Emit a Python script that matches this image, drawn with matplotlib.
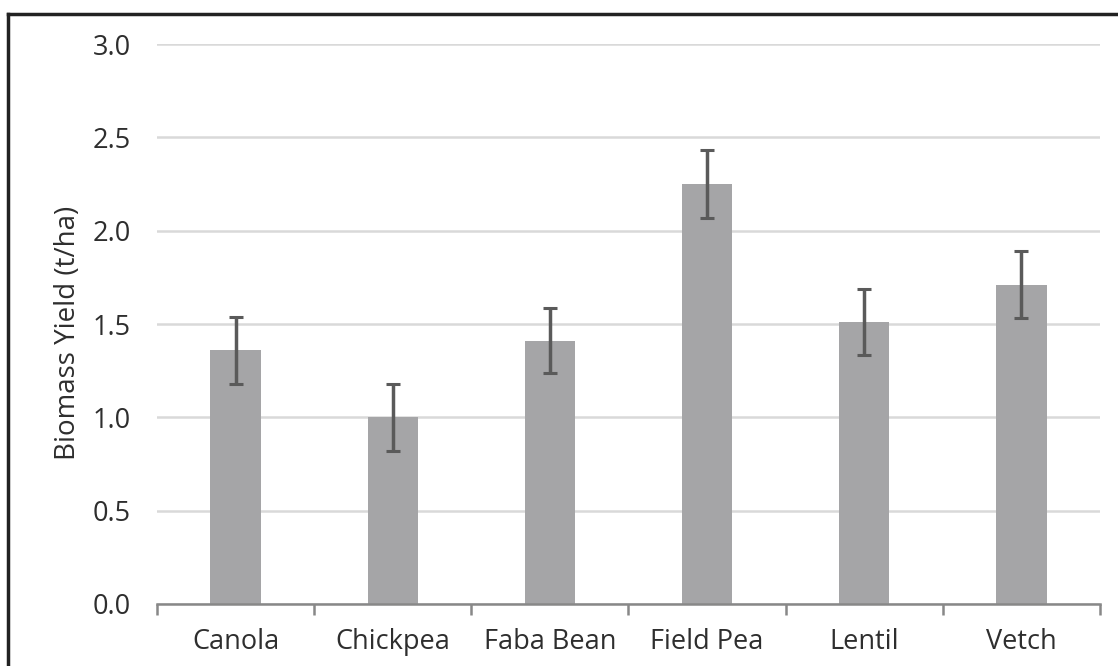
"""Biomass yield bar chart with error bars."""
import matplotlib
matplotlib.use("Agg")
import matplotlib.pyplot as plt
from matplotlib.lines import Line2D
import numpy as np

crops = ["Canola", "Chickpea", "Faba Bean", "Field Pea", "Lentil", "Vetch"]
biomass = [1.36, 1.00, 1.41, 2.25, 1.51, 1.71]
err = [0.18, 0.18, 0.175, 0.18, 0.175, 0.18]
yticks = [0.0, 0.5, 1.0, 1.5, 2.0, 2.5, 3.0]

plt.rcParams["font.family"] = ["Open Sans", "DejaVu Sans"]

fig = plt.figure(figsize=(11.18, 6.66), dpi=100)
ax = fig.add_axes([0.1404, 0.0931, 0.8435, 0.8408])

x = np.arange(len(crops))
ax.bar(x, biomass, width=0.32, color="#a5a5a7", zorder=2)
ax.errorbar(x, biomass, yerr=err, fmt="none", ecolor="#5a5a5a",
            elinewidth=2.5, capsize=5, capthick=2.2, zorder=3)

ax.set_xlim(-0.5, len(crops) - 0.5)
ax.set_ylim(0, 3.0)
ax.set_yticks(yticks)
ax.set_yticklabels([f"{v:.1f}" for v in yticks])
ax.yaxis.grid(True, color="#d9d9d9", linewidth=1.8, zorder=0)
ax.set_axisbelow(True)

ax.set_xticks(x)
ax.set_xticklabels(crops)
ax.set_xticks(np.arange(len(crops) + 1) - 0.5, minor=True)
ax.tick_params(axis="x", which="major", length=0, pad=17,
               labelsize=19.5, labelcolor="#2e2e2e")
ax.tick_params(axis="x", which="minor", length=8, width=1.8,
               color="#888888", direction="out")
ax.tick_params(axis="y", length=0, pad=19, labelsize=19.5, labelcolor="#2e2e2e")

for side in ["top", "right", "left"]:
    ax.spines[side].set_visible(False)
ax.spines["bottom"].set_color("#888888")
ax.spines["bottom"].set_linewidth(1.8)

ax.set_ylabel("Biomass Yield (t/ha)", fontsize=20, color="#2e2e2e")
ax.yaxis.set_label_coords(-0.08, 0.485)

# dark frame around the figure (top and left edges visible)
fig.add_artist(Line2D([0.0072, 0.0072], [0.0, 0.979], color="#222222",
                      linewidth=2.5, transform=fig.transFigure))
fig.add_artist(Line2D([0.0072, 1.0], [0.979, 0.979], color="#222222",
                      linewidth=2.5, transform=fig.transFigure))

fig.savefig("out.png", dpi=100)
